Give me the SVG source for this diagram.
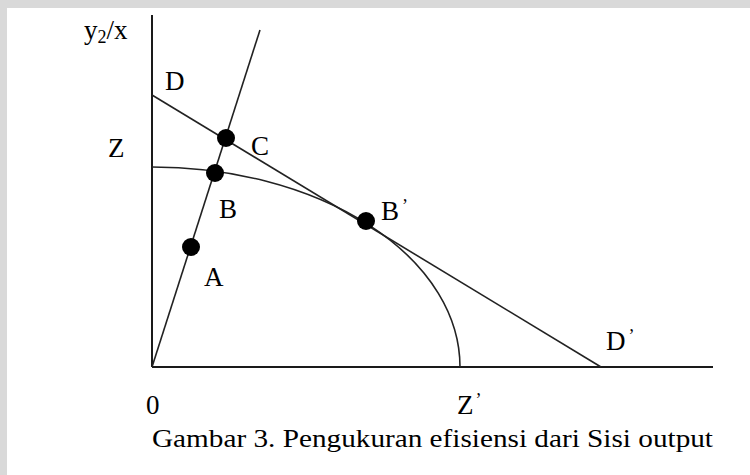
<svg xmlns="http://www.w3.org/2000/svg" width="750" height="475" viewBox="0 0 750 475">
<style>
.ax{stroke:#1a1a1a;stroke-width:2;fill:none}
.ln{stroke:#222;stroke-width:1.6;fill:none}
.dot{fill:#000}
.lb{font-size:27px}
.cap{font-size:25px}
.ap{font-size:18px}
</style>
<rect width="750" height="475" fill="#fff"/>
<rect x="0" y="0" width="750" height="8" fill="#d9d9d9"/>
<rect x="0" y="0" width="7" height="475" fill="#d9d9d9"/>
<g id="connectors">
<line class="ax" x1="152" y1="15" x2="152" y2="367"/>
<line class="ax" x1="152" y1="367" x2="713" y2="367"/>
<line class="ln" x1="152" y1="367" x2="260" y2="30"/>
<line class="ln" x1="152" y1="95" x2="601" y2="367"/>
<path class="ln" d="M152,167 A308,200 0 0 1 460,367"/>
</g>
<g font-family="'Times New Roman', 'Liberation Serif', Tinos, serif" fill="#000">
<g id="node-C"><circle class="dot" cx="226" cy="138" r="9"/><text class="lb" x="251" y="155">C</text></g>
<g id="node-B"><circle class="dot" cx="215" cy="173" r="9"/><text class="lb" x="219" y="218">B</text></g>
<g id="node-A"><circle class="dot" cx="191" cy="247" r="9"/><text class="lb" x="204" y="286">A</text></g>
<g id="node-Bp"><circle class="dot" cx="366" cy="221" r="9"/><text class="lb" x="381" y="220">B<tspan class="ap" dx="3" dy="-8">’</tspan></text></g>
<g id="labels">
<text class="lb" x="84" y="39">y<tspan font-size="18" dy="4">2</tspan><tspan dy="-4">/x</tspan></text>
<text class="lb" x="165" y="90">D</text>
<text class="lb" x="108" y="157">Z</text>
<text class="lb" x="606" y="350">D<tspan class="ap" dx="3" dy="-8">’</tspan></text>
<text class="lb" x="146" y="414">0</text>
<text class="lb" x="457" y="414">Z<tspan class="ap" dx="2" dy="-8">’</tspan></text>
<text class="cap" x="152" y="447" textLength="561" lengthAdjust="spacingAndGlyphs">Gambar 3. Pengukuran efisiensi dari Sisi output</text>
</g>
</g>
</svg>
